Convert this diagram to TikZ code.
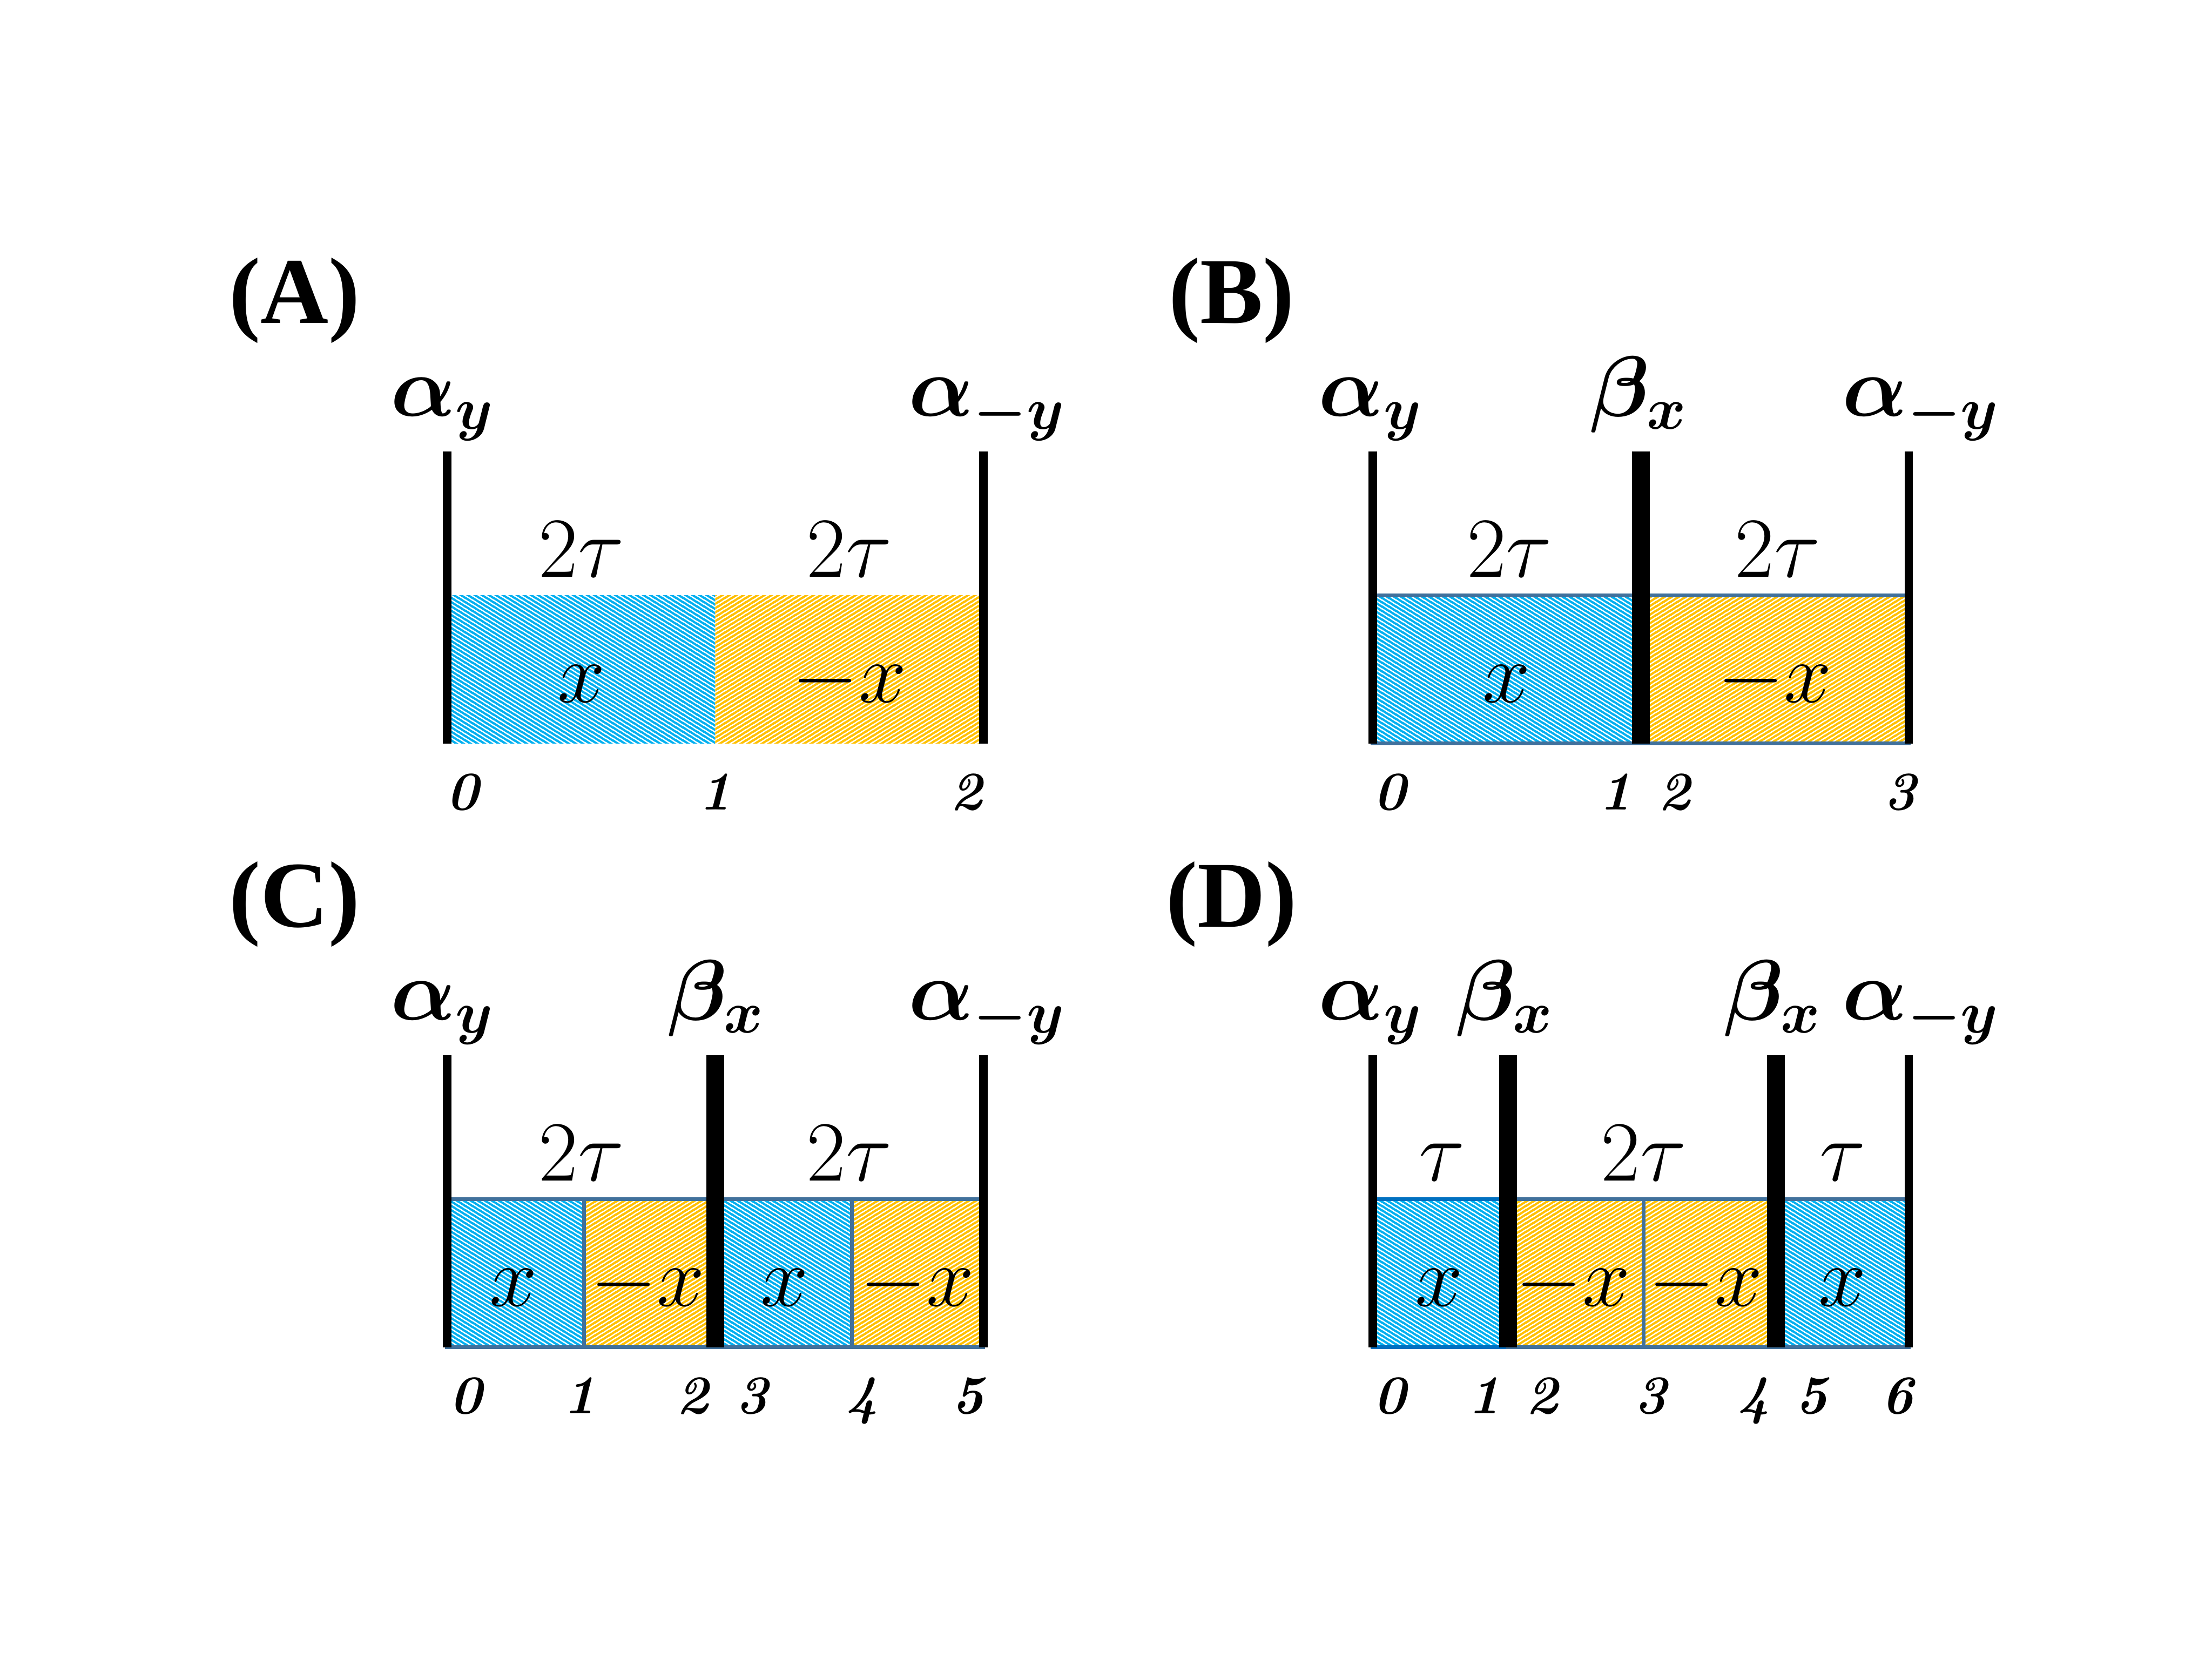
\documentclass[tikz,border=0pt]{standalone}
\usepackage{fontspec}
\usepackage{amsmath,amssymb}
\usepackage{bm}
\usepackage{tikz}
\usetikzlibrary{patterns.meta,positioning}

\newfontfamily\panelfont{Liberation Serif}

\definecolor{hatchblue}{HTML}{00B0F0}
\definecolor{hatchorange}{HTML}{FFC000}
\definecolor{cellline}{HTML}{41719C}
\definecolor{celllinedark}{HTML}{0070C0}

% fine diagonal hatching (tile 1.38pt x 0.87pt)
\tikzdeclarepattern{
  name=fineNE,
  type=uncolored,
  bounding box={(0pt,0pt) and (1.38pt,0.87pt)},
  tile size={(1.38pt,0.87pt)},
  code={
    \draw[line width=0.44pt] (-1.38pt,-0.87pt) -- (2.76pt,1.74pt)
      (-1.38pt,0pt) -- (1.38pt,1.74pt)
      (0pt,-0.87pt) -- (2.76pt,0.87pt);
  }
}
\tikzdeclarepattern{
  name=fineNW,
  type=uncolored,
  bounding box={(0pt,0pt) and (1.38pt,0.87pt)},
  tile size={(1.38pt,0.87pt)},
  code={
    \draw[line width=0.44pt] (-1.38pt,1.74pt) -- (2.76pt,-0.87pt)
      (-1.38pt,0.87pt) -- (1.38pt,-0.87pt)
      (0pt,1.74pt) -- (2.76pt,0pt);
  }
}

\begin{document}
\begin{tikzpicture}[
    wall/.style={line width=1.7pt},
    betawall/.style={line width=3.6pt},
    xcell/.style={pattern=fineNW, pattern color=hatchblue},
    mxcell/.style={pattern=fineNE, pattern color=hatchorange},
    rim/.style={draw=cellline, line width=0.8pt},
    op/.style={font=\fontsize{18}{20}\selectfont, anchor=base},
    dur/.style={font=\fontsize{16}{19}\selectfont, anchor=base},
    sgn/.style={font=\fontsize{17}{20}\selectfont, anchor=base},
    tick/.style={font=\fontsize{11}{13}\selectfont\bfseries\itshape, anchor=base},
    panel/.style={font=\fontsize{19}{22}\selectfont\panelfont\bfseries, anchor=base}
]
\useasboundingbox (0,0) rectangle (15.68,11.76);

% (A) two windows, no pulse
\begin{scope}[shift={(3.17,6.49)}]
    \fill[xcell] (0,0) rectangle (1.90,1.05);
    \fill[mxcell] (1.90,0) rectangle (3.80,1.05);
    \draw[wall] (0,0) -- (0,2.07);
    \draw[wall] (3.80,0) -- (3.80,2.07);

    \node[panel] (labA) at (-1.08,2.98) {(A)};
    \node[op] (ayA) at (-0.03,2.32) {$\bm{\alpha}_{\bm{y}}$};
    \node[op] (amyA) at (3.83,2.32) {$\bm{\alpha}_{\bm{-y}}$};
    \node[dur] (dA1) at (0.95,1.18) {$2\tau$};
    \node[dur] (dA2) at (2.85,1.18) {$2\tau$};
    \node[sgn] (sA1) at (0.95,0.29) {$x$};
    \node[sgn] (sA2) at (2.85,0.29) {$-x$};
    \node[tick] (tA0) at (0.11,-0.47) {0};
    \node[tick] (tA1) at (1.90,-0.47) {1};
    \node[tick] (tA2) at (3.68,-0.47) {2};
\end{scope}

% (B) one beta pulse in the middle
\begin{scope}[shift={(9.73,6.49)}]
    \filldraw[xcell, rim] (0,0) rectangle (1.90,1.05);
    \filldraw[mxcell, rim] (1.90,0) rectangle (3.80,1.05);
    \draw[wall] (0,0) -- (0,2.07);
    \draw[betawall] (1.90,0) -- (1.90,2.07);
    \draw[wall] (3.80,0) -- (3.80,2.07);

    \node[panel] (labB) at (-1.00,2.98) {(B)};
    \node[op] (ayB) at (-0.01,2.32) {$\bm{\alpha}_{\bm{y}}$};
    \node[op] (bxB) at (1.89,2.32) {$\bm{\beta}_{\bm{x}}$};
    \node[op] (amyB) at (3.89,2.32) {$\bm{\alpha}_{\bm{-y}}$};
    \node[dur] (dB1) at (0.97,1.18) {$2\tau$};
    \node[dur] (dB2) at (2.87,1.18) {$2\tau$};
    \node[sgn] (sB1) at (0.95,0.29) {$x$};
    \node[sgn] (sB2) at (2.85,0.29) {$-x$};
    \node[tick] (tB0) at (0.12,-0.47) {0};
    \node[tick] (tB1) at (1.72,-0.47) {1};
    \node[tick] (tB2) at (2.14,-0.47) {2};
    \node[tick] (tB3) at (3.74,-0.47) {3};
\end{scope}

% (C) beta pulse, four cells
\begin{scope}[shift={(3.17,2.21)}]
    \filldraw[xcell, rim] (0,0) rectangle (0.97,1.05);
    \filldraw[mxcell, rim] (0.97,0) rectangle (1.90,1.05);
    \filldraw[xcell, rim] (1.90,0) rectangle (2.87,1.05);
    \filldraw[mxcell, rim] (2.87,0) rectangle (3.80,1.05);
    \draw[wall] (0,0) -- (0,2.07);
    \draw[betawall] (1.90,0) -- (1.90,2.07);
    \draw[wall] (3.80,0) -- (3.80,2.07);

    \node[panel] (labC) at (-1.08,2.98) {(C)};
    \node[op] (ayC) at (-0.03,2.32) {$\bm{\alpha}_{\bm{y}}$};
    \node[op] (bxC) at (1.91,2.32) {$\bm{\beta}_{\bm{x}}$};
    \node[op] (amyC) at (3.83,2.32) {$\bm{\alpha}_{\bm{-y}}$};
    \node[dur] (dC1) at (0.95,1.18) {$2\tau$};
    \node[dur] (dC2) at (2.85,1.18) {$2\tau$};
    \node[sgn] (sC1) at (0.47,0.29) {$x$};
    \node[sgn] (sC2) at (1.42,0.29) {$-x$};
    \node[sgn] (sC3) at (2.39,0.29) {$x$};
    \node[sgn] (sC4) at (3.33,0.29) {$-x$};
    \node[tick] (tC0) at (0.13,-0.47) {0};
    \node[tick] (tC1) at (0.94,-0.47) {1};
    \node[tick] (tC2) at (1.74,-0.47) {2};
    \node[tick] (tC3) at (2.16,-0.47) {3};
    \node[tick] (tC4) at (2.94,-0.47) {4};
    \node[tick] (tC5) at (3.69,-0.47) {5};
\end{scope}

% (D) two beta pulses
\begin{scope}[shift={(9.73,2.21)}]
    \filldraw[xcell, draw=celllinedark, line width=0.8pt] (0,0) rectangle (0.96,1.05);
    \filldraw[mxcell, rim] (0.96,0) rectangle (1.92,1.05);
    \filldraw[mxcell, rim] (1.92,0) rectangle (2.86,1.05);
    \filldraw[xcell, rim] (2.86,0) rectangle (3.80,1.05);
    \draw[wall] (0,0) -- (0,2.07);
    \draw[betawall] (0.96,0) -- (0.96,2.07);
    \draw[betawall] (2.86,0) -- (2.86,2.07);
    \draw[wall] (3.80,0) -- (3.80,2.07);

    \node[panel] (labD) at (-1.00,2.98) {(D)};
    \node[op] (ayD) at (-0.01,2.32) {$\bm{\alpha}_{\bm{y}}$};
    \node[op] (bxD1) at (0.94,2.32) {$\bm{\beta}_{\bm{x}}$};
    \node[op] (bxD2) at (2.84,2.32) {$\bm{\beta}_{\bm{x}}$};
    \node[op] (amyD) at (3.89,2.32) {$\bm{\alpha}_{\bm{-y}}$};
    \node[dur] (dD1) at (0.49,1.18) {$\tau$};
    \node[dur] (dD2) at (1.92,1.18) {$2\tau$};
    \node[dur] (dD3) at (3.33,1.18) {$\tau$};
    \node[sgn] (sD1) at (0.47,0.29) {$x$};
    \node[sgn] (sD2) at (1.42,0.29) {$-x$};
    \node[sgn] (sD3) at (2.36,0.29) {$-x$};
    \node[sgn] (sD4) at (3.33,0.29) {$x$};
    \node[tick] (tD0) at (0.12,-0.47) {0};
    \node[tick] (tD1) at (0.79,-0.47) {1};
    \node[tick] (tD2) at (1.20,-0.47) {2};
    \node[tick] (tD3) at (1.97,-0.47) {3};
    \node[tick] (tD4) at (2.70,-0.47) {4};
    \node[tick] (tD5) at (3.11,-0.47) {5};
    \node[tick] (tD6) at (3.72,-0.47) {6};
\end{scope}
\end{tikzpicture}
\end{document}
